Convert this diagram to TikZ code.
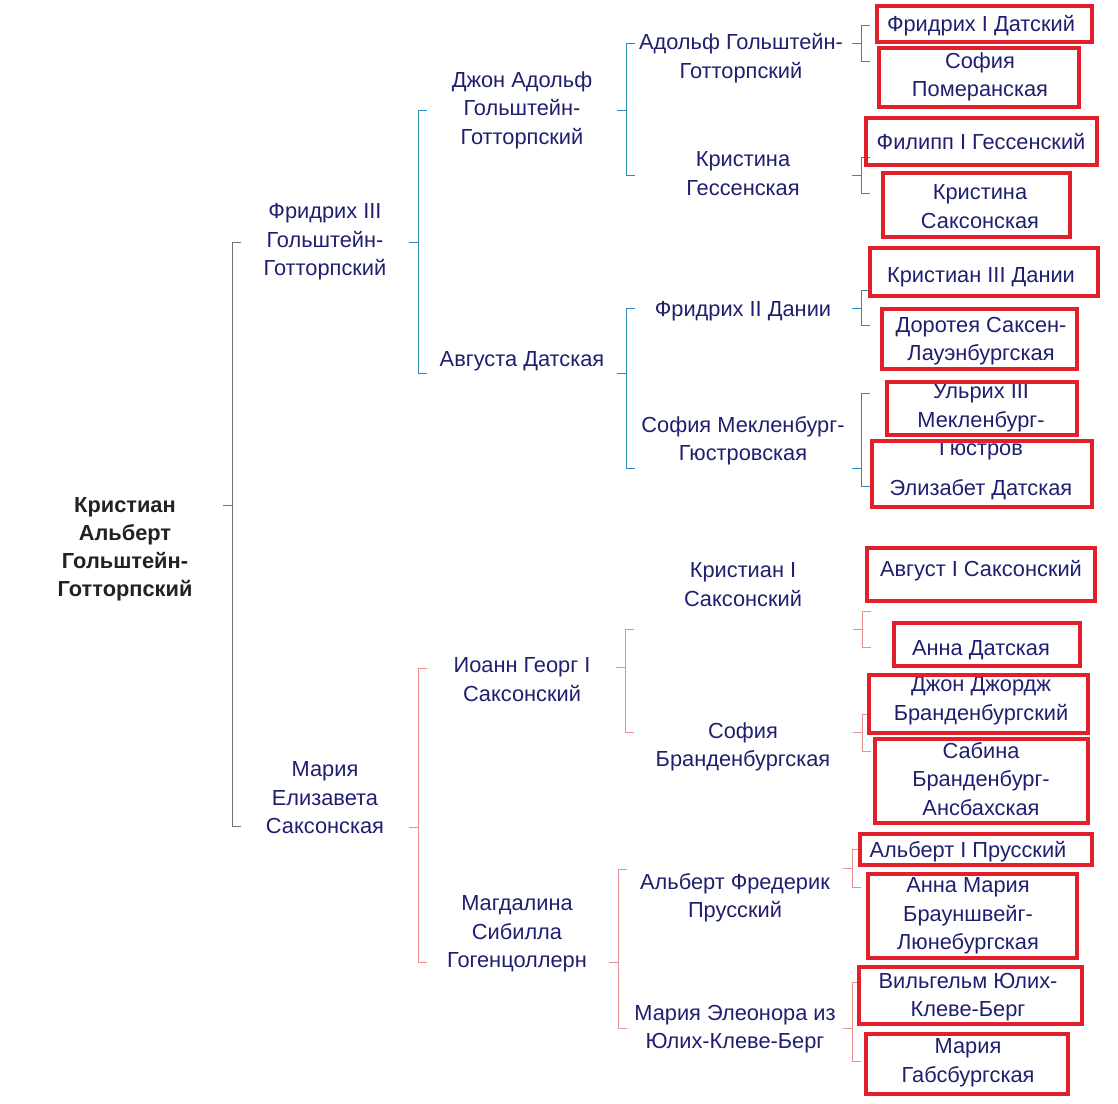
\documentclass[tikz,border=0pt]{standalone}
\usepackage{fontspec}
\setmainfont{Liberation Sans}
\usetikzlibrary{calc}
\definecolor{cnavy}{HTML}{1F1F70}
\definecolor{cdark}{HTML}{222222}
\definecolor{cgreyline}{HTML}{707070}
\definecolor{cteal}{HTML}{2E8AB8}
\definecolor{cpink}{HTML}{E8908F}
\definecolor{cred}{HTML}{E0202A}
\tikzset{
  every picture/.style={line width=1pt},
  person/.style={text=cnavy, align=center, inner sep=0pt, yshift=-3pt,
    font=\fontsize{21.8}{28.5}\selectfont,
    execute at begin node={\strut}, execute at end node={\strut}},
  rootperson/.style={person, text=cdark, font=\fontsize{21.8}{28}\selectfont\bfseries},
  redbox/.style={draw=cred, line width=4pt},
  link/.style={draw=#1, line width=1pt},
}

\begin{document}
\begin{tikzpicture}[x=1pt, y=-1pt]
  \useasboundingbox (0,0) rectangle (1118,1103);
  % brackets: name / x of vertical / top / stub / bottom / colour
  \foreach \n/\xv/\yt/\ym/\yb/\c in {
      root/232/242/505/826/cgreyline,
      fr3/418/110/242/373/cteal, ja/626/43/110/175/cteal, ad/626/308/373/468/cteal,
      adolf/861/25/43/61/cteal, kg/861/157/175/193/cteal,
      f2/861/290/308/325/cteal, sm/861/393/468/486/cteal,
      mes/418/668/827/962/cpink, ig/625/629/667/732/cpink, mag/618/869/962/1028/cpink,
      k1/862/611/629/647/cpink, sb/862/714/732/751/cpink,
      af/852/849/868/887/cpink, mel/852/982/1028/1061/cpink} {
    \coordinate (\n-top) at (\xv+9,\yt);
    \coordinate (\n-bot) at (\xv+9,\yb);
    \coordinate (\n-in) at (\xv-9,\ym);
    \draw[link=\c] (\n-top) -- ++(-9,0) |- (\n-bot);
    \draw[link=\c] (\n-in) -- ++(9,0);
  }

  % generations 0-3
  \node[rootperson] (root) at (125,548) {Кристиан\\Альберт\\Гольштейн-\\Готторпский};
  \node[person] (fr3) at (325,241) {Фридрих III\\Гольштейн-\\Готторпский};
  \node[person] (mes) at (325,799) {Мария\\Елизавета\\Саксонская};
  \node[person] (ja) at (522,109) {Джон Адольф\\Гольштейн-\\Готторпский};
  \node[person] (ad) at (522,358) {Августа Датская};
  \node[person] (ig) at (522,681) {Иоанн Георг I\\Саксонский};
  \node[person] (mag) at (517,933) {Магдалина\\Сибилла\\Гогенцоллерн};
  \node[person] (adolf) at (741,57) {Адольф Гольштейн-\\Готторпский};
  \node[person] (kg) at (743,175) {Кристина\\Гессенская};
  \node[person] (f2) at (743,308) {Фридрих II Дании};
  \node[person] (sm) at (743,440) {София Мекленбург-\\Гюстровская};
  \node[person] (k1) at (743,586) {Кристиан I\\Саксонский};
  \node[person] (sb) at (743,746) {София\\Бранденбургская};
  \node[person] (af) at (735,897) {Альберт Фредерик\\Прусский};
  \node[person] (mel) at (735,1028) {Мария Элеонора из\\Юлих-Клеве-Берг};

  % generation 4
  \node[person] (g1) at (981,23) {Фридрих I Датский};
  \node[person] (g2) at (980,76) {София\\Померанская};
  \node[person] (g3) at (981,141) {Филипп I Гессенский};
  \node[person] (g4) at (980,208) {Кристина\\Саксонская};
  \node[person] (g5) at (981,274) {Кристиан III Дании};
  \node[person] (g6) at (981,340) {Доротея Саксен-\\Лауэнбургская};
  \node[person] (g7) at (981,421) {Ульрих III\\Мекленбург-\\Гюстров};
  \node[person] (g8) at (981,487) {Элизабет Датская};
  \node[person] (g9) at (981,568) {Август I Саксонский};
  \node[person] (g10) at (981,647) {Анна Датская};
  \node[person] (g11) at (981,700) {Джон Джордж\\Бранденбургский};
  \node[person] (g12) at (981,780) {Сабина\\Бранденбург-\\Ансбахская};
  \node[person] (g13) at (968,849) {Альберт I Прусский};
  \node[person] (g14) at (968,915) {Анна Мария\\Брауншвейг-\\Люнебургская};
  \node[person] (g15) at (968,996) {Вильгельм Юлих-\\Клеве-Берг};
  \node[person] (g16) at (968,1062) {Мария\\Габсбургская};

  % red frames
  \foreach \xa/\ya/\xb/\yb in {877/6/1092/42, 879/48/1079/107, 866/118/1097/165,
      883/173/1070/237, 870/248/1098/296, 882/309/1077/369, 887/382/1077/435,
      872/441/1092/507, 867/548/1095/601, 894/623/1080/666, 869/675/1088/733,
      875/739/1088/823, 860/834/1092/865, 868/874/1077/958, 859/967/1082/1024,
      866/1034/1068/1094}
    \draw[redbox] (\xa,\ya) rectangle (\xb,\yb);
\end{tikzpicture}
\end{document}
